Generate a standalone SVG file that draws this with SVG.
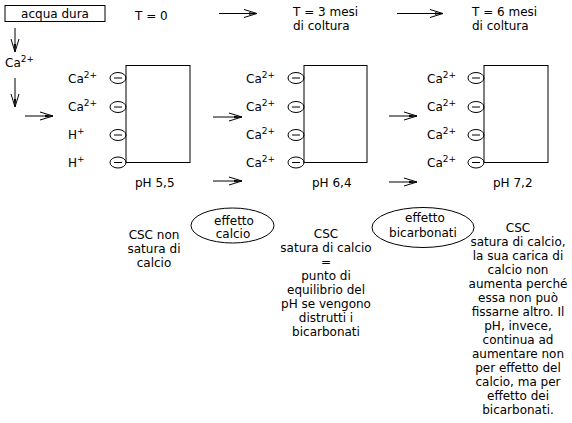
<svg xmlns="http://www.w3.org/2000/svg" width="572" height="423" viewBox="0 0 572 423">
<style>
text{font-family:"DejaVu Sans","Liberation Sans",sans-serif;font-size:12px;fill:#000}
.c{text-anchor:middle}
.sup{font-size:9px}
.ln{stroke:#000;stroke-width:1;fill:none}
.ar{stroke:#000;stroke-width:1;fill:none;marker-end:url(#ah)}
</style>
<defs>
<marker id="ah" markerUnits="userSpaceOnUse" markerWidth="16" markerHeight="12" viewBox="-1 -6 16 12" refX="13" refY="0" orient="auto">
<path d="M0,-4 L13,0 L0,4" fill="none" stroke="#000" stroke-width="1"/>
<path d="M5,-1.2 L13,0 L5,1.2 Z" fill="#000"/>
</marker>
<g id="neg"><ellipse cx="0" cy="0" rx="8" ry="5.5" class="ln"/><line x1="-4" y1="0" x2="4" y2="0" class="ln"/></g>
</defs>

<g id="acqua-dura">
<rect x="5" y="5.5" width="100" height="16" class="ln"/>
<text x="55" y="18" class="c">acqua dura</text>
</g>
<g id="ca-left"><text x="5" y="67">Ca<tspan class="sup" dy="-5">2+</tspan></text></g>

<g id="t0"><text x="135" y="20">T = 0</text></g>
<g id="t3"><text x="293" y="16">T = 3 mesi</text><text x="293" y="30">di coltura</text></g>
<g id="t6"><text x="472" y="16">T = 6 mesi</text><text x="472" y="30">di coltura</text></g>

<g id="panel1">
<rect x="126" y="65.5" width="64" height="97" class="ln"/>
<use href="#neg" x="118" y="78"/><use href="#neg" x="118" y="107"/><use href="#neg" x="118" y="135"/><use href="#neg" x="118" y="162.5"/>
<text x="68" y="83">Ca<tspan class="sup" dy="-5">2+</tspan></text>
<text x="68" y="111">Ca<tspan class="sup" dy="-5">2+</tspan></text>
<text x="68" y="139">H<tspan class="sup" dy="-5">+</tspan></text>
<text x="68" y="167">H<tspan class="sup" dy="-5">+</tspan></text>
<text x="135" y="187">pH 5,5</text>
</g>

<g id="panel2">
<rect x="304" y="65.5" width="63" height="97" class="ln"/>
<use href="#neg" x="296" y="78"/><use href="#neg" x="296" y="107"/><use href="#neg" x="296" y="135"/><use href="#neg" x="296" y="162.5"/>
<text x="246" y="83">Ca<tspan class="sup" dy="-5">2+</tspan></text>
<text x="246" y="111">Ca<tspan class="sup" dy="-5">2+</tspan></text>
<text x="246" y="139">Ca<tspan class="sup" dy="-5">2+</tspan></text>
<text x="246" y="167">Ca<tspan class="sup" dy="-5">2+</tspan></text>
<text x="312" y="187">pH 6,4</text>
</g>

<g id="panel3">
<rect x="484" y="65.5" width="64" height="97" class="ln"/>
<use href="#neg" x="476" y="78"/><use href="#neg" x="476" y="107"/><use href="#neg" x="476" y="135"/><use href="#neg" x="476" y="162.5"/>
<text x="427" y="83">Ca<tspan class="sup" dy="-5">2+</tspan></text>
<text x="427" y="111">Ca<tspan class="sup" dy="-5">2+</tspan></text>
<text x="427" y="139">Ca<tspan class="sup" dy="-5">2+</tspan></text>
<text x="427" y="167">Ca<tspan class="sup" dy="-5">2+</tspan></text>
<text x="493" y="187">pH 7,2</text>
</g>

<g id="text-csc-non">
<text class="c" x="154" y="239">CSC non</text>
<text class="c" x="154" y="253">satura di</text>
<text class="c" x="154" y="267">calcio</text>
</g>

<g id="effetto-calcio">
<ellipse cx="232.5" cy="225.5" rx="41.5" ry="17.5" class="ln"/>
<text class="c" x="234" y="225">effetto</text>
<text class="c" x="233" y="238">calcio</text>
</g>

<g id="effetto-bicarbonati">
<ellipse cx="423" cy="227.5" rx="51" ry="20" class="ln"/>
<text class="c" x="425" y="222">effetto</text>
<text class="c" x="423" y="237">bicarbonati</text>
</g>

<g id="text-csc-mid">
<text class="c" x="326" y="238">CSC</text>
<text class="c" x="326" y="252">satura di calcio</text>
<text class="c" x="326" y="266">=</text>
<text class="c" x="326" y="280">punto di</text>
<text class="c" x="326" y="294">equilibrio del</text>
<text class="c" x="326" y="308">pH se vengono</text>
<text class="c" x="326" y="322">distrutti i</text>
<text class="c" x="326" y="336">bicarbonati</text>
</g>

<g id="text-csc-right">
<text class="c" x="518" y="232">CSC</text>
<text class="c" x="518" y="246">satura di calcio,</text>
<text class="c" x="518" y="260">la sua carica di</text>
<text class="c" x="518" y="274">calcio non</text>
<text class="c" x="518" y="288">aumenta perché</text>
<text class="c" x="518" y="302">essa non può</text>
<text class="c" x="518" y="316">fissarne altro. Il</text>
<text class="c" x="518" y="330">pH, invece,</text>
<text class="c" x="518" y="344">continua ad</text>
<text class="c" x="518" y="358">aumentare non</text>
<text class="c" x="518" y="372">per effetto del</text>
<text class="c" x="518" y="386">calcio, ma per</text>
<text class="c" x="518" y="400">effetto dei</text>
<text class="c" x="518" y="414">bicarbonati.</text>
</g>

<g id="connectors">
<line x1="15" y1="28" x2="15" y2="52" class="ar"/>
<line x1="15" y1="78" x2="15" y2="107" class="ar"/>
<line x1="25" y1="116" x2="53" y2="116" class="ar"/>
<line x1="219" y1="13.5" x2="257" y2="13.5" class="ar"/>
<line x1="397" y1="13.5" x2="443" y2="13.5" class="ar"/>
<line x1="213" y1="117" x2="242" y2="117" class="ar"/>
<line x1="213" y1="181" x2="242" y2="181" class="ar"/>
<line x1="389" y1="116" x2="417" y2="116" class="ar"/>
<line x1="389" y1="182" x2="417" y2="182" class="ar"/>
</g>
</svg>
